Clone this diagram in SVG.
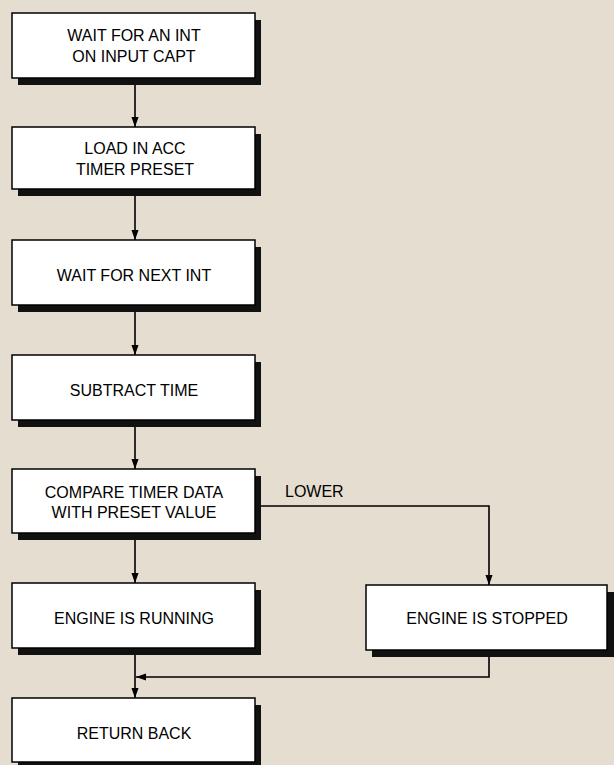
<svg xmlns="http://www.w3.org/2000/svg" width="614" height="765" viewBox="0 0 614 765">
<defs>
<style>
.box{fill:#fff;stroke:#000;stroke-width:1.5}
.sh{fill:#111}
.t{font-family:"Liberation Sans",Arial,sans-serif;font-size:16px;fill:#000;text-anchor:middle}
.lbl{font-family:"Liberation Sans",Arial,sans-serif;font-size:16px;fill:#000}
.ln{fill:none;stroke:#000;stroke-width:1.6}
</style>
<marker id="ah" markerWidth="10" markerHeight="14" refX="14" refY="5" viewBox="0 0 14 10" markerUnits="userSpaceOnUse" orient="auto">
<path d="M0,0 L14,5 L0,10 Z" fill="#000"/>
</marker>
</defs>
<rect width="614" height="765" fill="#e5ddcf"/>
<g id="n1"><rect class="sh" x="18" y="20" width="243" height="65"/><rect class="box" x="12" y="13" width="243" height="65"/><text class="t" x="134" y="41">WAIT FOR AN INT</text><text class="t" x="134" y="62">ON INPUT CAPT</text></g>
<g id="n2"><rect class="sh" x="18" y="134" width="243" height="62"/><rect class="box" x="12" y="127" width="243" height="62"/><text class="t" x="135" y="154">LOAD IN ACC</text><text class="t" x="135" y="175">TIMER PRESET</text></g>
<g id="n3"><rect class="sh" x="18" y="247" width="243" height="65"/><rect class="box" x="12" y="240" width="243" height="65"/><text class="t" x="134" y="281">WAIT FOR NEXT INT</text></g>
<g id="n4"><rect class="sh" x="18" y="362" width="243" height="65"/><rect class="box" x="12" y="355" width="243" height="65"/><text class="t" x="134" y="396">SUBTRACT TIME</text></g>
<g id="n5"><rect class="sh" x="18" y="476" width="243" height="64"/><rect class="box" x="12" y="469" width="243" height="64"/><text class="t" x="134" y="498">COMPARE TIMER DATA</text><text class="t" x="134" y="518">WITH PRESET VALUE</text></g>
<g id="n6"><rect class="sh" x="18" y="590" width="243" height="65"/><rect class="box" x="12" y="583" width="243" height="65"/><text class="t" x="134" y="624">ENGINE IS RUNNING</text></g>
<g id="n7"><rect class="sh" x="18" y="705" width="243" height="64"/><rect class="box" x="12" y="698" width="243" height="64"/><text class="t" x="134" y="739">RETURN BACK</text></g>
<g id="n8"><rect class="sh" x="372" y="592" width="242" height="65"/><rect class="box" x="366" y="585" width="241" height="65"/><text class="t" x="487" y="624">ENGINE IS STOPPED</text></g>
<g id="connectors">
<line class="ln" x1="135" y1="85" x2="135" y2="127" marker-end="url(#ah)"/>
<line class="ln" x1="135" y1="196" x2="135" y2="240" marker-end="url(#ah)"/>
<line class="ln" x1="135" y1="312" x2="135" y2="355" marker-end="url(#ah)"/>
<line class="ln" x1="135" y1="427" x2="135" y2="469" marker-end="url(#ah)"/>
<line class="ln" x1="135" y1="540" x2="135" y2="583" marker-end="url(#ah)"/>
<polyline class="ln" points="261,506 489,506 489,585" marker-end="url(#ah)"/>
<line class="ln" x1="135" y1="655" x2="135" y2="698" marker-end="url(#ah)"/>
<polyline class="ln" points="489,657 489,677 136,677" marker-end="url(#ah)"/>
<text class="lbl" x="285" y="497">LOWER</text>
</g>
</svg>
